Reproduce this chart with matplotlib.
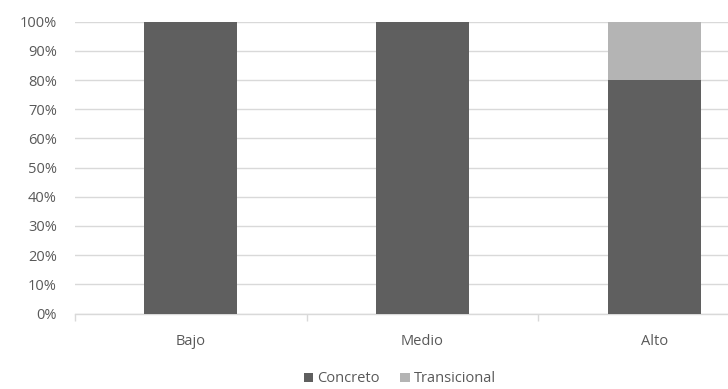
import matplotlib
matplotlib.use("Agg")
import matplotlib.pyplot as plt
from matplotlib.ticker import PercentFormatter

categories = ["Bajo", "Medio", "Alto"]
concreto = [100, 100, 80]
transicional = [0, 0, 20]

dark = "#5f5f5f"
light = "#b4b4b4"
grid_col = "#d9d9d9"
text_col = "#595959"

plt.rcParams["font.family"] = ["Open Sans", "DejaVu Sans"]

fig = plt.figure(figsize=(7.28, 3.89), dpi=100)
# plot area runs past the right edge of the figure
ax = fig.add_axes([75 / 728, 1 - 313.5 / 389, 695 / 728, (313.5 - 21.7) / 389])

x = list(range(len(categories)))
ax.bar(x, concreto, width=0.4, color=dark, label="Concreto", zorder=3)
ax.bar(x, transicional, width=0.4, bottom=concreto, color=light,
       label="Transicional", zorder=3)

ax.set_xlim(-0.5, 2.5)
ax.set_ylim(0, 100)
ax.set_yticks(range(0, 101, 10))
ax.yaxis.set_major_formatter(PercentFormatter(decimals=0))
ax.grid(axis="y", color=grid_col, linewidth=1, zorder=0)

ax.set_xticks(x)
ax.set_xticklabels(categories)
ax.set_xticks([-0.5, 0.5, 1.5, 2.5], minor=True)
ax.tick_params(axis="x", which="major", length=0, pad=15, labelsize=10.5,
               colors=text_col)
ax.tick_params(axis="x", which="minor", length=5, color=grid_col, width=1)
ax.tick_params(axis="y", length=0, pad=13, labelsize=10.5, colors=text_col)

for s in ["top", "right", "left"]:
    ax.spines[s].set_visible(False)
ax.spines["bottom"].set_color(grid_col)
ax.spines["bottom"].set_linewidth(1)

fig.legend(loc="center", bbox_to_anchor=(400 / 728, 1 - 379 / 389), ncol=2,
           frameon=False, fontsize=10.5, handlelength=0.65, handleheight=0.65,
           handletextpad=0.3, columnspacing=1.4, labelcolor=text_col)

fig.savefig("out.png", dpi=100)
